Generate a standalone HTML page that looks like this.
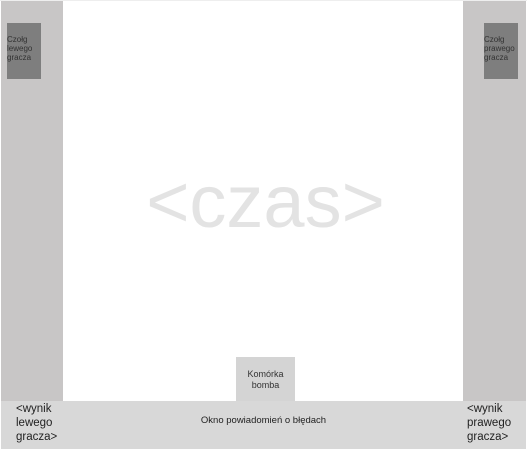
<!DOCTYPE html>
<html><head><style>
body{margin:0;width:527px;height:451px;background:#fff;position:relative;overflow:hidden;font-family:"Liberation Sans",sans-serif;}
.a{position:absolute;box-sizing:border-box;}
.s{font-size:8px;line-height:9px;color:#333;}
.m{font-size:11.5px;line-height:14px;color:#222;}
</style></head><body>
<div class="a" style="left:0;top:0;width:527px;height:1px;background:#eee"></div>
<div class="a" style="left:1px;top:1px;width:62px;height:400px;background:#c8c6c6"></div>
<div class="a" style="left:463px;top:1px;width:63px;height:400px;background:#c8c6c6"></div>
<div class="a" style="left:7px;top:23px;width:34px;height:56px;background:#7e7e7e"></div>
<div class="a s" style="left:7px;top:35px;">Czołg<br>lewego<br>gracza</div>
<div class="a" style="left:484px;top:23px;width:34px;height:56px;background:#7e7e7e"></div>
<div class="a s" style="left:484px;top:35px;">Czołg<br>prawego<br>gracza</div>
<div class="a" style="left:0;width:527px;text-align:center;top:160px;font-size:74px;line-height:84px;color:#e3e3e3;padding-left:4px">&lt;czas&gt;</div>
<div class="a" style="left:236px;top:357px;width:59px;height:44px;background:#d4d4d4;font-size:9px;line-height:11px;color:#333;text-align:center;padding-top:12px">Komórka<br>bomba</div>
<div class="a" style="left:1px;top:401px;width:525px;height:48px;background:#d8d8d8"></div>
<div class="a m" style="left:16px;top:402px;">&lt;wynik<br>lewego<br>gracza&gt;</div>
<div class="a m" style="left:467px;top:402px;">&lt;wynik<br>prawego<br>gracza&gt;</div>
<div class="a" style="left:0;width:527px;top:415px;text-align:center;font-size:9.5px;color:#222">Okno powiadomień o błędach</div>
</body></html>
